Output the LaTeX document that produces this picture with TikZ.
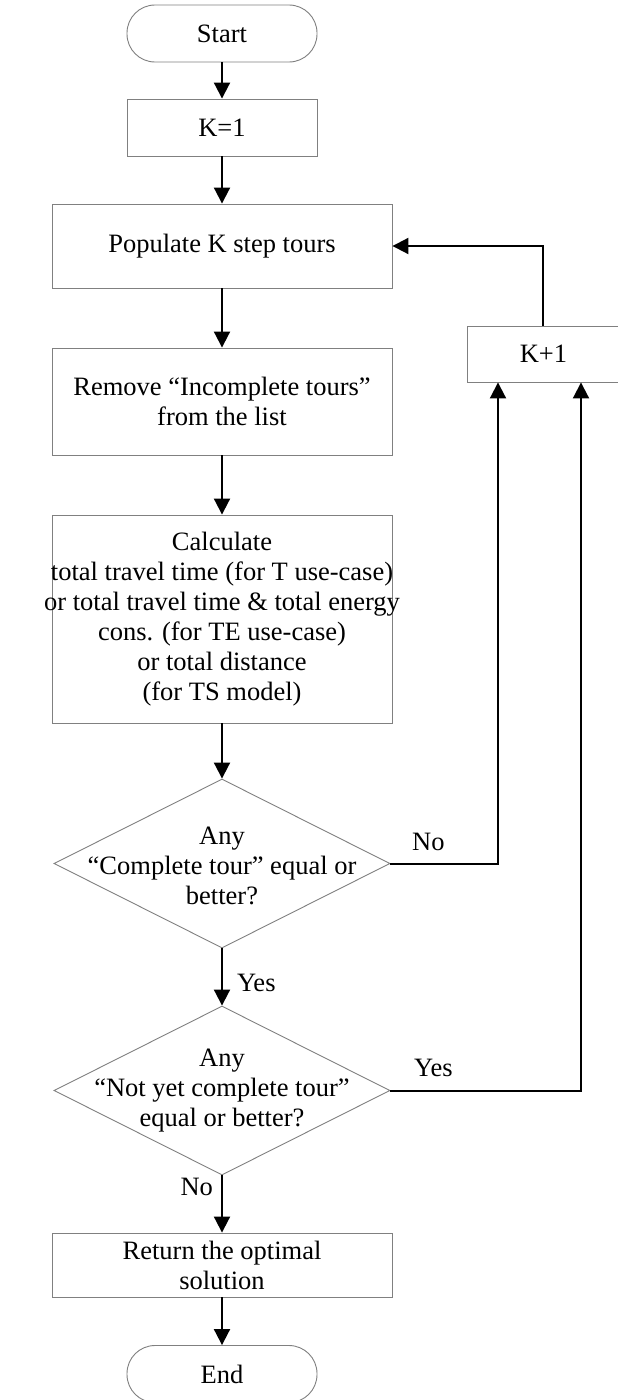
\documentclass[tikz,border=0pt]{standalone}
\usepackage{fontspec}
\setmainfont{Liberation Serif}
\usetikzlibrary{arrows.meta,shapes.geometric,calc}

\begin{document}
\begin{tikzpicture}[x=1pt,y=-1pt,
  every node/.style={font=\fontsize{26.5}{30}\selectfont, align=center, inner sep=0pt},
  procbox/.style={draw=black!50, line width=0.9pt, rectangle, minimum width=#1},
  procbox/.default=340pt,
  termbox/.style={draw=black!50, line width=0.9pt, rectangle, rounded corners=28pt,
    minimum width=190pt, minimum height=57pt},
  decbox/.style={draw=black!50, line width=0.9pt, diamond, minimum width=336pt,
    minimum height=169pt},
  flow/.style={draw=black, line width=2pt, -{Triangle[length=16pt,width=16pt]}},
  lbl/.style={font=\fontsize{26.5}{30}\selectfont}
]
\useasboundingbox[fill=white] (0,0) rectangle (618,1400);

% process chain
\node[termbox] (start) at (222,33.5) {Start};
\node[procbox=190pt, minimum height=57pt] (k1) at (222,127.5) {K=1};
\node[procbox, minimum height=84pt] (pop) at (222,246) {Populate K step tours};
\node[procbox=153pt, minimum height=56pt] (kp) at (543.5,354) {K+1};
\node[procbox, minimum height=107pt] (rem) at (222,401.5)
  {Remove “Incomplete tours”\\from the list};
\node[procbox, minimum height=208pt] (calc) at (222,619) {};
\node at (calc.center)
  {Calculate\\total travel time (for T use-case)\\or total travel time \& total energy\\cons. (for TE use-case)\\or total distance\\(for TS model)};
\node[decbox] (d1) at (222,863.5) {};
\node at (222,866) {Any\\“Complete tour” equal or\\better?};
\node[decbox] (d2) at (222,1090.5) {};
\node at (222,1091) {Any\\“Not yet complete tour”\\equal or better?};
\node[procbox, minimum height=64pt] (ret) at (222,1265) {Return the optimal\\solution};
\node[termbox] (end) at (222,1374) {End};

% connectors
\draw[flow] (start) -- (k1);
\draw[flow] (k1) -- (pop);
\draw[flow] (pop) -- (rem);
\draw[flow] (rem) -- (calc);
\draw[flow] (calc) -- (d1);
\draw[flow] (d1) -- node[lbl, anchor=west, xshift=14pt, yshift=-6pt] {Yes} (d2);
\draw[flow] (d2) -- node[lbl, anchor=east, xshift=-8pt, yshift=17pt] {No} (ret);
\draw[flow] (ret) -- (end);

\coordinate (kin1) at ([xshift=-45.5pt]kp.south);
\coordinate (kin2) at ([xshift=37.5pt]kp.south);
\coordinate (kout) at ([xshift=-0.5pt]kp.north);
\draw[flow] (d1.east) -| node[lbl, pos=0.176, above=12pt] {No} (kin1);
\draw[flow] (d2.east) -| node[lbl, pos=0.113, above=13pt] {Yes} (kin2);
\draw[flow] (kout) |- (pop.east);
\end{tikzpicture}
\end{document}
